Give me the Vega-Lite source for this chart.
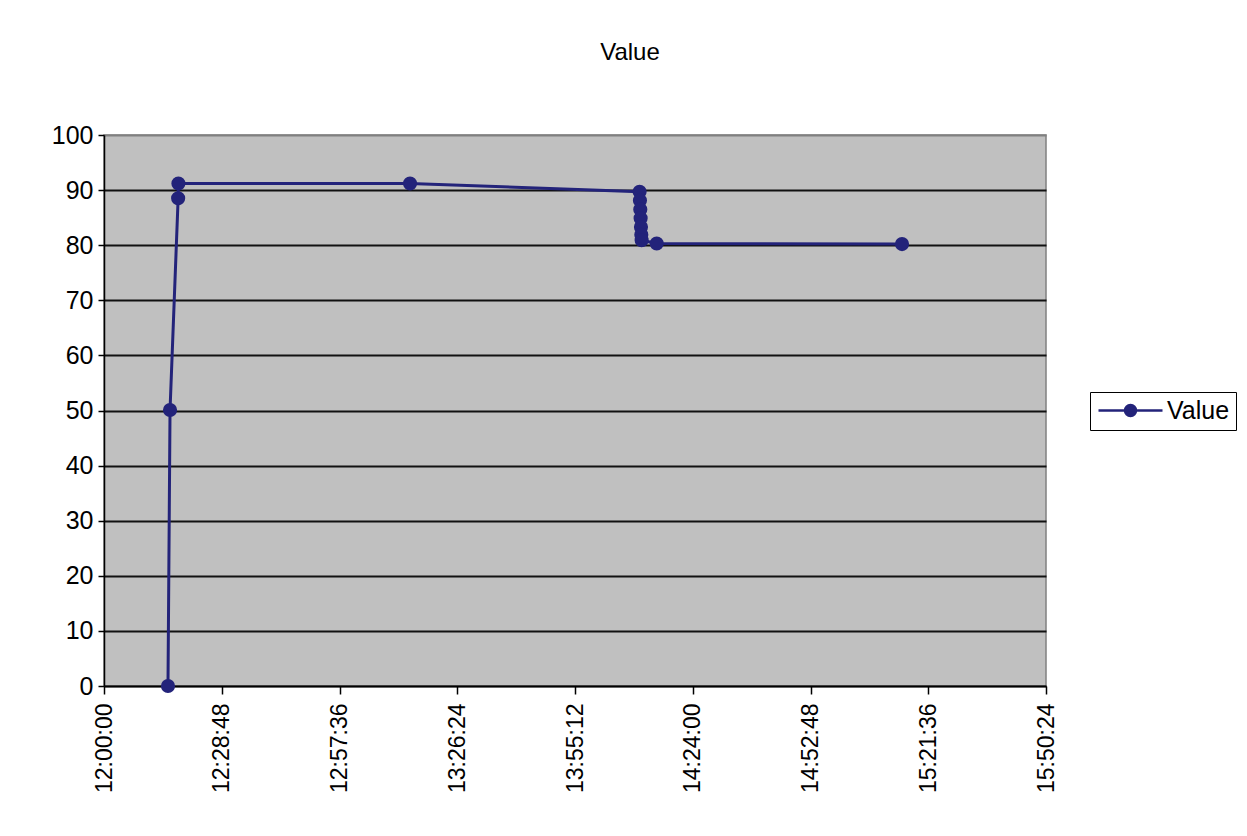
{
  "$schema": "https://vega.github.io/schema/vega-lite/v6.json",
  "width": 942,
  "height": 551,
  "autosize": "none",
  "padding": {"left": 104, "top": 135, "right": 201, "bottom": 150},
  "background": "white",
  "title": {"text": "Value", "fontSize": 24, "font": "Liberation Sans", "fontWeight": "normal", "color": "black", "anchor": "middle", "frame": "group", "dx": 55, "offset": 34, "baseline": "bottom"},
  "config": {
    "view": {"fill": "#C0C0C0", "stroke": "#808080", "strokeWidth": 1.5},
    "font": "Liberation Sans"
  },
  "data": {"values": [
    {"time": "2000-01-01T12:15:39", "value": 0, "series": "Value"},
    {"time": "2000-01-01T12:16:09", "value": 50.1, "series": "Value"},
    {"time": "2000-01-01T12:18:08", "value": 88.5, "series": "Value"},
    {"time": "2000-01-01T12:18:12", "value": 91.2, "series": "Value"},
    {"time": "2000-01-01T13:14:51", "value": 91.2, "series": "Value"},
    {"time": "2000-01-01T14:11:00", "value": 89.7, "series": "Value"},
    {"time": "2000-01-01T14:11:05", "value": 88.1, "series": "Value"},
    {"time": "2000-01-01T14:11:10", "value": 86.5, "series": "Value"},
    {"time": "2000-01-01T14:11:15", "value": 84.9, "series": "Value"},
    {"time": "2000-01-01T14:11:20", "value": 83.3, "series": "Value"},
    {"time": "2000-01-01T14:11:25", "value": 81.9, "series": "Value"},
    {"time": "2000-01-01T14:11:30", "value": 80.9, "series": "Value"},
    {"time": "2000-01-01T14:15:11", "value": 80.3, "series": "Value"},
    {"time": "2000-01-01T15:15:11", "value": 80.2, "series": "Value"}
  ]},
  "encoding": {
    "x": {
      "field": "time", "type": "temporal",
      "scale": {"nice": false, "domain": [
        {"year": 2000, "month": 1, "date": 1, "hours": 12},
        {"year": 2000, "month": 1, "date": 1, "hours": 15, "minutes": 50, "seconds": 24}
      ]},
      "axis": {
        "title": null, "grid": false, "format": "%H:%M:%S", "labelAngle": 270,
        "values": [
          {"year": 2000, "month": 1, "date": 1, "hours": 12, "minutes": 0, "seconds": 0},
          {"year": 2000, "month": 1, "date": 1, "hours": 12, "minutes": 28, "seconds": 48},
          {"year": 2000, "month": 1, "date": 1, "hours": 12, "minutes": 57, "seconds": 36},
          {"year": 2000, "month": 1, "date": 1, "hours": 13, "minutes": 26, "seconds": 24},
          {"year": 2000, "month": 1, "date": 1, "hours": 13, "minutes": 55, "seconds": 12},
          {"year": 2000, "month": 1, "date": 1, "hours": 14, "minutes": 24, "seconds": 0},
          {"year": 2000, "month": 1, "date": 1, "hours": 14, "minutes": 52, "seconds": 48},
          {"year": 2000, "month": 1, "date": 1, "hours": 15, "minutes": 21, "seconds": 36},
          {"year": 2000, "month": 1, "date": 1, "hours": 15, "minutes": 50, "seconds": 24}
        ],
        "tickSize": 8, "tickColor": "black", "tickWidth": 1.5, "domainColor": "black", "domainWidth": 1.5,
        "labelFontSize": 23, "labelColor": "black", "labelPadding": 9, "labelOverlap": false, "labelFlush": false
      }
    },
    "y": {
      "field": "value", "type": "quantitative",
      "scale": {"domain": [0, 100], "nice": false},
      "axis": {
        "title": null, "values": [0, 10, 20, 30, 40, 50, 60, 70, 80, 90, 100],
        "grid": true,
        "gridColor": {"condition": {"test": "datum.value === 100", "value": "#808080"}, "value": "#111111"},
        "gridWidth": 1.8,
        "tickSize": 6, "tickColor": "black", "tickWidth": 1.5, "domainColor": "black", "domainWidth": 1.5,
        "labelFontSize": 25, "labelColor": "black", "labelPadding": 5, "labelOverlap": false, "labelFlush": false
      }
    }
  },
  "layer": [
    {
      "mark": {"type": "line", "strokeWidth": 3},
      "encoding": {
        "color": {
          "field": "series", "type": "nominal",
          "scale": {"range": ["#23237A"]},
          "legend": {
            "title": null, "orient": "none", "legendX": 986, "legendY": 257,
            "strokeColor": "black", "fillColor": "white", "padding": 6, "cornerRadius": 0,
            "symbolType": "M-3.2,0H3.2M-0.55,0A0.55,0.55,0,1,0,0.55,0A0.55,0.55,0,1,0,-0.55,0Z",
            "symbolSize": 400, "symbolStrokeWidth": 2.5, "symbolFillColor": "#23237A", "symbolStrokeColor": "#23237A",
            "symbolOffset": 22, "labelOffset": 24,
            "labelFontSize": 25, "labelColor": "black", "labelFont": "Liberation Sans"
          }
        }
      }
    },
    {
      "mark": {"type": "point", "filled": true, "size": 200, "opacity": 1, "color": "#23237A"}
    }
  ]
}
